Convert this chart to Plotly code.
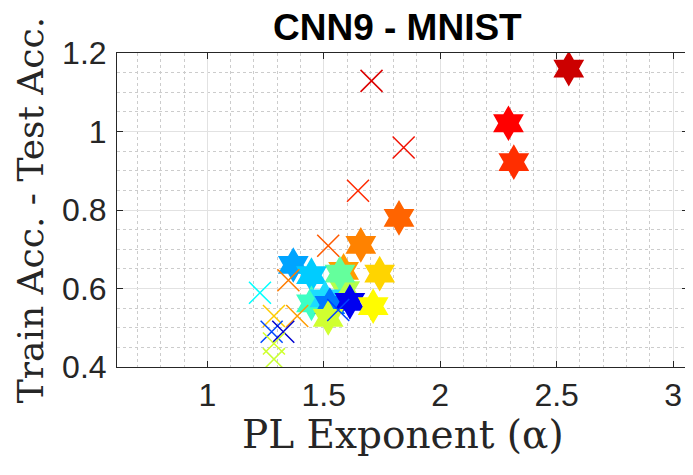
import plotly.graph_objects as go

# PL exponent (alpha) vs generalization gap, CNN9 on MNIST
star_alpha = [2.552, 2.293, 2.316, 1.823, 1.659, 1.585, 1.590, 1.569, 1.369,
              1.447, 1.740, 1.447, 1.505, 1.526, 1.612, 1.712, 1.519]
star_gap = [1.160, 1.021, 0.922, 0.780, 0.711, 0.645, 0.596, 0.638, 0.660,
            0.634, 0.638, 0.562, 0.575, 0.558, 0.566, 0.555, 0.525]
star_colors = ["#CC0000", "#FF0000", "#FF2E00", "#FF6400", "#FF8200", "#FF9C00",
               "#B4FF4C", "#64FF9C", "#00A4FF", "#00CCFF", "#FFD400", "#3CFFC4",
               "#1CDCFF", "#0078FF", "#0000F0", "#FFFC00", "#D0FF30"]

cross_alpha = [1.705, 1.843, 1.647, 1.519, 1.348, 1.226, 1.562, 1.286, 1.386,
               1.276, 1.326, 1.286, 1.286]
cross_gap = [1.129, 0.959, 0.849, 0.709, 0.621, 0.589, 0.545, 0.530, 0.530,
             0.490, 0.490, 0.460, 0.420]
cross_colors = ["#DC0000", "#F01000", "#FF2A00", "#FF5A00", "#FF7C00", "#00FFFF",
                "#0040FF", "#FFCC00", "#FF9C00", "#0048FF", "#0000D0", "#D4FF28",
                "#C8FF34"]

x_ticks = [1, 1.5, 2, 2.5, 3]
x_labels = ["1", "1.5", "2", "2.5", "3"]
y_ticks = [0.4, 0.6, 0.8, 1.0, 1.2]
y_labels = ["0.4", "0.6", "0.8", "1", "1.2"]

INK = "#262626"
SANS = "Liberation Sans, Arial, sans-serif"
SERIF = "DejaVu Serif, serif"

fig = go.Figure()
fig.add_trace(go.Scatter(
    x=star_alpha, y=star_gap, mode="markers", cliponaxis=True,
    marker=dict(symbol="hexagram", size=27, angle=0, color=star_colors,
                line=dict(width=0)),
))
fig.add_trace(go.Scatter(
    x=cross_alpha, y=cross_gap, mode="markers", cliponaxis=True,
    marker=dict(symbol="x-thin", size=22, color=cross_colors,
                line=dict(width=1.5, color=cross_colors)),
))

axis_common = dict(
    showline=True, linecolor=INK, linewidth=1, mirror="ticks",
    ticks="inside", ticklen=6, tickcolor=INK, tickwidth=1,
    showgrid=True, gridcolor="#E2E2E2", gridwidth=1, zeroline=False,
    tickfont=dict(family=SANS, size=32, color=INK), automargin=False,
)
fig.update_xaxes(range=[0.612, 3.064], tickvals=x_ticks, ticktext=x_labels,
                 minor=dict(dtick=0.1, tick0=0, showgrid=True, gridcolor="#CCCCCC",
                            griddash="dot", gridwidth=1),
                 **axis_common)
fig.update_yaxes(range=[0.4, 1.2], tickvals=y_ticks, ticktext=y_labels,
                 ticklabelstandoff=3,
                 minor=dict(dtick=0.05, tick0=0, showgrid=True, gridcolor="#CCCCCC",
                            griddash="dot", gridwidth=1),
                 **axis_common)

# page body has an 8px margin, so the figure is sized to the rest of the window
fig.update_layout(
    width=685, height=467,
    margin=dict(l=109, r=5, t=45, b=108, autoexpand=False),
    paper_bgcolor="white", plot_bgcolor="white",
    showlegend=False,
    title=dict(text="<b>CNN9 - MNIST</b>", x=0.491, xref="paper", xanchor="center",
               y=0.988, yref="container", yanchor="top", pad=dict(t=0),
               font=dict(family=SANS, size=37, color="black")),
    annotations=[
        dict(text="PL Exponent (\u03b1)", xref="paper", yref="paper",
             x=0.5, y=-0.215, xanchor="center", yanchor="middle", showarrow=False,
             font=dict(family=SERIF, size=39, color=INK)),
        dict(text="Train Acc. - Test Acc.", xref="paper", yref="paper",
             x=-0.152, y=0.5, xanchor="center", yanchor="middle", showarrow=False,
             textangle=-90, font=dict(family=SERIF, size=36, color=INK)),
    ],
)

fig.write_html("out.html")
